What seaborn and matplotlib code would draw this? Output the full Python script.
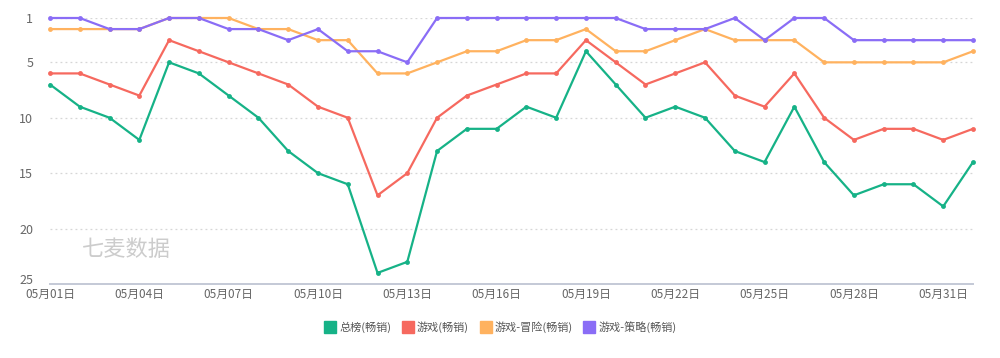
import pandas as pd
import seaborn as sns
import matplotlib.pyplot as plt
from matplotlib.lines import Line2D

dates = ['05月%02d日' % d for d in range(1, 32)] + ['06月01日']

total = [7, 9, 10, 12, 5, 6, 8, 10, 13, 15, 16, 24, 23, 13, 11, 11,
         9, 10, 4, 7, 10, 9, 10, 13, 14, 9, 14, 17, 16, 16, 18, 14]
game = [6, 6, 7, 8, 3, 4, 5, 6, 7, 9, 10, 17, 15, 10, 8, 7,
        6, 6, 3, 5, 7, 6, 5, 8, 9, 6, 10, 12, 11, 11, 12, 11]
adventure = [2, 2, 2, 2, 1, 1, 1, 2, 2, 3, 3, 6, 6, 5, 4, 4,
             3, 3, 2, 4, 4, 3, 2, 3, 3, 3, 5, 5, 5, 5, 5, 4]
strategy = [1, 1, 2, 2, 1, 1, 2, 2, 3, 2, 4, 4, 5, 1, 1, 1,
            1, 1, 1, 1, 2, 2, 2, 1, 3, 1, 1, 3, 3, 3, 3, 3]

names = ['总榜(畅销)', '游戏(畅销)', '游戏-冒险(畅销)', '游戏-策略(畅销)']
colors = ['#16b287', '#f6695f', '#ffb25f', '#8a6df6']

rows = []
for name, vals in zip(names, [total, game, adventure, strategy]):
    for i, v in enumerate(vals):
        rows.append({'idx': i, 'rank': v, 'series': name})
df = pd.DataFrame(rows)

sns.set_theme(style='white')
plt.rcParams['font.family'] = ['Noto Sans CJK SC', 'DejaVu Sans']

fig = plt.figure(figsize=(10, 3.58), dpi=100)
ax = fig.add_axes([0.05, 1 - 284 / 358, 0.923, (284 - 18) / 358])

sns.lineplot(data=df, x='idx', y='rank', hue='series', hue_order=names,
             palette=colors, marker='o', markersize=3.5, markeredgewidth=0,
             linewidth=1.6, legend=False, ax=ax, clip_on=False, zorder=3)

ax.set_xlim(0, len(dates) - 1)
ax.set_ylim(25, 1)
yticks = [1, 5, 10, 15, 20, 25]
ax.set_yticks(yticks)
ax.set_yticklabels([str(t) for t in yticks], fontsize=9, color='#666666')
# bottom label sits just above the axis line so it clears the dates
ax.get_yticklabels()[-1].set_verticalalignment('baseline')
for t in yticks[:-1]:
    ax.axhline(t, color='#d6d6d6', linestyle=(0, (1.5, 2.5)), linewidth=0.9, zorder=1)

xt = list(range(0, len(dates), 3))
ax.set_xticks(xt)
ax.set_xticklabels([dates[i] for i in xt], fontsize=8.5, color='#666666')
ax.tick_params(axis='x', length=0, pad=3)
ax.tick_params(axis='y', length=0, pad=12)
ax.set_xlabel('')
ax.set_ylabel('')

for s in ['top', 'right', 'left']:
    ax.spines[s].set_visible(False)
ax.spines['bottom'].set_color('#c4c9d6')
ax.spines['bottom'].set_linewidth(1.4)

ax.text(0.083, 0.128, '七麦数据', transform=ax.transAxes, fontsize=16,
        color='#cccccc', ha='center', va='center')

handles = [Line2D([0], [0], marker='s', linestyle='none', markersize=8,
                  markerfacecolor=c, markeredgecolor=c) for c in colors]
fig.legend(handles, names, loc='center', bbox_to_anchor=(0.5, 1 - 327 / 358),
           ncol=4, frameon=False, fontsize=8, handletextpad=0.2,
           handlelength=1.2, columnspacing=0.9, labelcolor='#555555')

fig.savefig('out.png', dpi=100)
